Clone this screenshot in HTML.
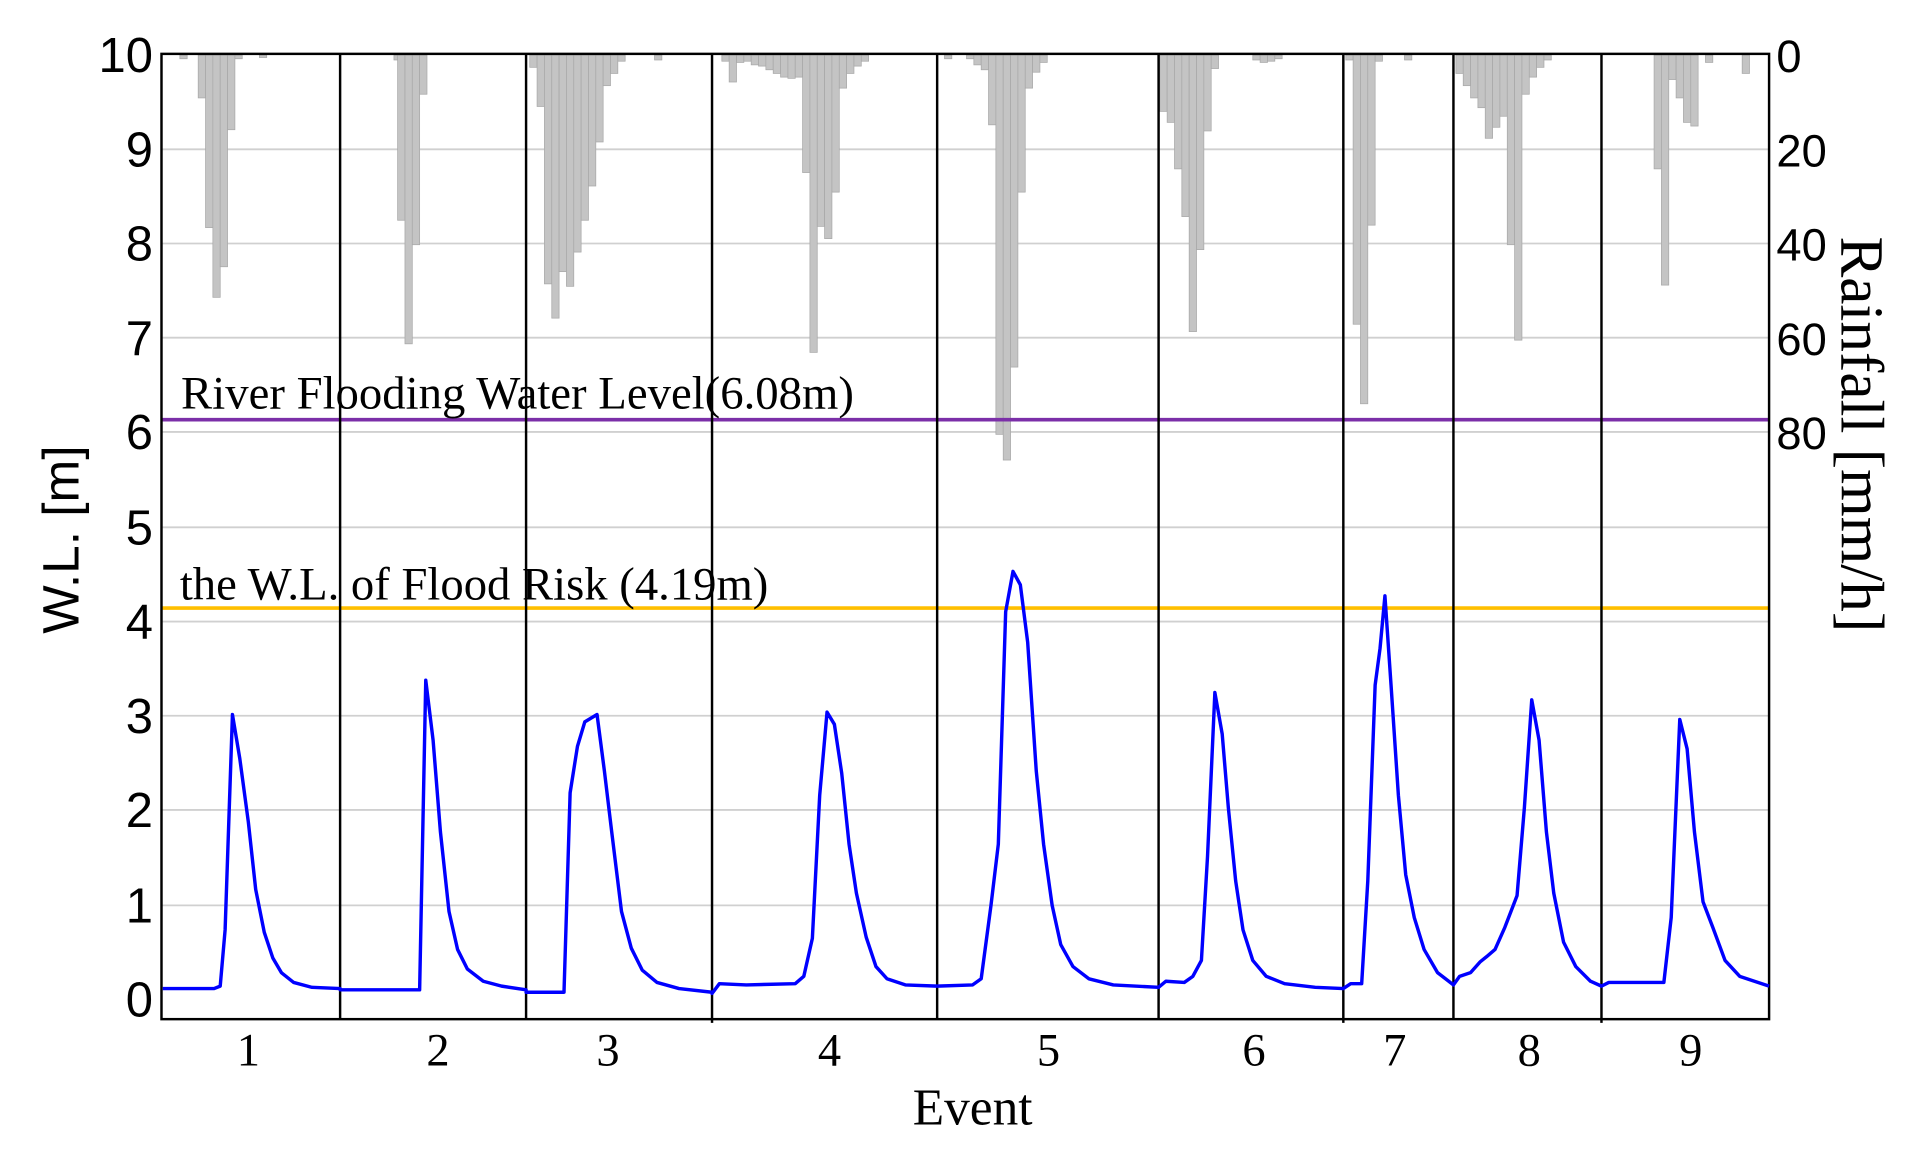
<!DOCTYPE html>
<html><head><meta charset="utf-8"><style>html,body{margin:0;padding:0;background:#fff}svg{display:block}</style></head>
<body>
<svg width="1911" height="1155" viewBox="0 0 1562 944" xmlns="http://www.w3.org/2000/svg">
<rect width="1562" height="944" fill="#fff"/>
<g stroke="#d0d0d0" stroke-width="1.5">
<line x1="132" x2="1446" y1="122" y2="122"/><line x1="132" x2="1446" y1="199" y2="199"/>
<line x1="132" x2="1446" y1="276" y2="276"/><line x1="132" x2="1446" y1="353" y2="353"/>
<line x1="132" x2="1446" y1="431" y2="431"/><line x1="132" x2="1446" y1="508" y2="508"/>
<line x1="132" x2="1446" y1="585" y2="585"/><line x1="132" x2="1446" y1="662" y2="662"/>
<line x1="132" x2="1446" y1="740" y2="740"/>
</g>
<g fill="#c4c4c4" stroke="#a8a8a8" stroke-width="0.6">
<rect x="147" y="45" width="6" height="3"/><rect x="162" y="45" width="6" height="35"/><rect x="168" y="45" width="6" height="141"/><rect x="174" y="45" width="6" height="198"/><rect x="180" y="45" width="6" height="173"/><rect x="186" y="45" width="6" height="61"/><rect x="192" y="45" width="6" height="3"/><rect x="212" y="45" width="6" height="2"/>
<rect x="322" y="45" width="6" height="4"/><rect x="325" y="45" width="6" height="135"/><rect x="331" y="45" width="6" height="236"/><rect x="337" y="45" width="6" height="155"/><rect x="343" y="45" width="6" height="32"/>
<rect x="433" y="45" width="6" height="10"/><rect x="439" y="45" width="6" height="42"/><rect x="445" y="45" width="6" height="187"/><rect x="451" y="45" width="6" height="215"/><rect x="457" y="45" width="6" height="177"/><rect x="463" y="45" width="6" height="189"/><rect x="469" y="45" width="6" height="161"/><rect x="475" y="45" width="6" height="135"/><rect x="481" y="45" width="6" height="107"/><rect x="487" y="45" width="6" height="71"/><rect x="493" y="45" width="6" height="25"/><rect x="499" y="45" width="6" height="15"/><rect x="505" y="45" width="6" height="5"/><rect x="535" y="45" width="6" height="4"/>
<rect x="590" y="45" width="6" height="5"/><rect x="596" y="45" width="6" height="22"/><rect x="602" y="45" width="6" height="6"/><rect x="608" y="45" width="6" height="5"/><rect x="614" y="45" width="6" height="8"/><rect x="620" y="45" width="6" height="9"/><rect x="626" y="45" width="6" height="12"/><rect x="632" y="45" width="6" height="15"/><rect x="638" y="45" width="6" height="18"/><rect x="644" y="45" width="6" height="19"/><rect x="650" y="45" width="6" height="18"/><rect x="656" y="45" width="6" height="96"/><rect x="662" y="45" width="6" height="243"/><rect x="668" y="45" width="6" height="140"/><rect x="674" y="45" width="6" height="150"/><rect x="680" y="45" width="6" height="112"/><rect x="686" y="45" width="6" height="27"/><rect x="692" y="45" width="6" height="15"/><rect x="698" y="45" width="6" height="9"/><rect x="704" y="45" width="6" height="5"/>
<rect x="772" y="45" width="6" height="3"/><rect x="790" y="45" width="6" height="3"/><rect x="796" y="45" width="6" height="8"/><rect x="802" y="45" width="6" height="12"/><rect x="808" y="45" width="6" height="57"/><rect x="814" y="45" width="6" height="310"/><rect x="820" y="45" width="6" height="331"/><rect x="826" y="45" width="6" height="255"/><rect x="832" y="45" width="6" height="112"/><rect x="838" y="45" width="6" height="27"/><rect x="844" y="45" width="6" height="14"/><rect x="850" y="45" width="6" height="6"/>
<rect x="948" y="45" width="6" height="46"/><rect x="954" y="45" width="6" height="55"/><rect x="960" y="45" width="6" height="93"/><rect x="966" y="45" width="6" height="132"/><rect x="972" y="45" width="6" height="226"/><rect x="978" y="45" width="6" height="159"/><rect x="984" y="45" width="6" height="62"/><rect x="990" y="45" width="6" height="11"/><rect x="1024" y="45" width="6" height="4"/><rect x="1030" y="45" width="6" height="6"/><rect x="1036" y="45" width="6" height="5"/><rect x="1042" y="45" width="6" height="3"/>
<rect x="1100" y="45" width="6" height="4"/><rect x="1106" y="45" width="6" height="220"/><rect x="1112" y="45" width="6" height="285"/><rect x="1118" y="45" width="6" height="139"/><rect x="1124" y="45" width="6" height="5"/><rect x="1148" y="45" width="6" height="4"/>
<rect x="1190" y="45" width="6" height="15"/><rect x="1196" y="45" width="6" height="25"/><rect x="1202" y="45" width="6" height="35"/><rect x="1208" y="45" width="6" height="43"/><rect x="1214" y="45" width="6" height="68"/><rect x="1220" y="45" width="6" height="59"/><rect x="1226" y="45" width="6" height="50"/><rect x="1232" y="45" width="6" height="155"/><rect x="1238" y="45" width="6" height="233"/><rect x="1244" y="45" width="6" height="32"/><rect x="1250" y="45" width="6" height="18"/><rect x="1256" y="45" width="6" height="10"/><rect x="1262" y="45" width="6" height="4"/>
<rect x="1352" y="45" width="6" height="93"/><rect x="1358" y="45" width="6" height="188"/><rect x="1364" y="45" width="6" height="20"/><rect x="1370" y="45" width="6" height="35"/><rect x="1376" y="45" width="6" height="55"/><rect x="1382" y="45" width="6" height="58"/><rect x="1394" y="45" width="6" height="6"/><rect x="1424" y="45" width="6" height="15"/>
</g>
<line x1="132" x2="1446" y1="343" y2="343" stroke="#7b2fa8" stroke-width="3"/>
<line x1="132" x2="1446" y1="497" y2="497" stroke="#ffbf00" stroke-width="3"/>
<g stroke="#000" stroke-width="2">
<line x1="278" x2="278" y1="44" y2="833"/><line x1="430" x2="430" y1="44" y2="833"/><line x1="582" x2="582" y1="44" y2="836"/><line x1="766" x2="766" y1="44" y2="833"/><line x1="947" x2="947" y1="44" y2="833"/><line x1="1098" x2="1098" y1="44" y2="836"/><line x1="1188" x2="1188" y1="44" y2="833"/><line x1="1309" x2="1309" y1="44" y2="836"/>
</g>
<rect x="132" y="44" width="1314" height="789" fill="none" stroke="#000" stroke-width="2"/>
<polyline fill="none" stroke="#0000ff" stroke-width="2.8" stroke-linejoin="round" points="133,808 175,808 180,806 184,760 190,584 196,620 203,672 209,727 216,762 223,783 230,795 240,803 255,807 278,808 278,809 343,809 348,556 354,605 360,680 367,745 374,776 382,792 395,802 410,806 430,809 430,811 461,811 466,648 472,610 478,590 488,584 494,630 500,680 508,745 516,775 525,793 537,803 555,808 582,811 582,812 588,804 610,805 650,804 657,798 664,767 670,650 676,582 682,592 688,632 694,690 700,730 708,766 716,790 725,800 740,805 766,806 795,805 802,800 810,740 816,690 822,500 828,467 834,478 840,525 847,630 853,690 860,740 867,772 877,790 890,800 910,805 947,807 953,802 968,803 975,798 982,785 987,700 993,566 999,600 1004,660 1010,720 1016,760 1024,785 1035,798 1050,804 1075,807 1098,808 1104,804 1113,804 1118,720 1124,560 1128,530 1132,487 1137,560 1143,650 1149,715 1156,750 1164,776 1175,795 1188,805 1193,798 1202,795 1210,786 1215,782 1222,776 1230,758 1240,732 1246,660 1252,572 1258,605 1264,680 1270,730 1278,770 1288,790 1300,802 1309,806 1315,803 1360,803 1366,750 1373,588 1379,612 1385,680 1392,737 1400,758 1410,785 1422,798 1446,806"/>
<g font-family="Liberation Sans, sans-serif" font-size="40" fill="#000" text-anchor="end">
<text x="125" y="59">10</text><text x="125" y="136">9</text><text x="125" y="213">8</text><text x="125" y="290">7</text><text x="125" y="367">6</text><text x="125" y="445">5</text><text x="125" y="522">4</text><text x="125" y="599">3</text><text x="125" y="676">2</text><text x="125" y="754">1</text><text x="125" y="831">0</text>
</g>
<g font-family="Liberation Sans, sans-serif" font-size="37" fill="#000">
<text x="1452" y="59">0</text><text x="1452" y="136">20</text><text x="1452" y="213">40</text><text x="1452" y="290">60</text><text x="1452" y="367">80</text>
</g>
<text transform="translate(64,441) rotate(-90)" font-family="Liberation Sans, sans-serif" font-size="42" text-anchor="middle">W.L. [m]</text>
<text transform="translate(1505,355) rotate(90)" font-family="Liberation Serif, serif" font-size="50" text-anchor="middle">Rainfall [mm/h]</text>
<g font-family="Liberation Serif, serif" font-size="38" fill="#000">
<text x="148" y="334" textLength="550" lengthAdjust="spacingAndGlyphs">River Flooding Water Level(6.08m)</text>
<text x="147" y="490" textLength="481" lengthAdjust="spacingAndGlyphs">the W.L. of Flood Risk (4.19m)</text>
</g>
<g font-family="Liberation Serif, serif" font-size="38" fill="#000" text-anchor="middle">
<text x="203" y="871">1</text><text x="358" y="871">2</text><text x="497" y="871">3</text><text x="678" y="871">4</text><text x="857" y="871">5</text><text x="1025" y="871">6</text><text x="1140" y="871">7</text><text x="1250" y="871">8</text><text x="1382" y="871">9</text>
<text x="795" y="919" font-size="42">Event</text>
</g>
</svg>
</body></html>
